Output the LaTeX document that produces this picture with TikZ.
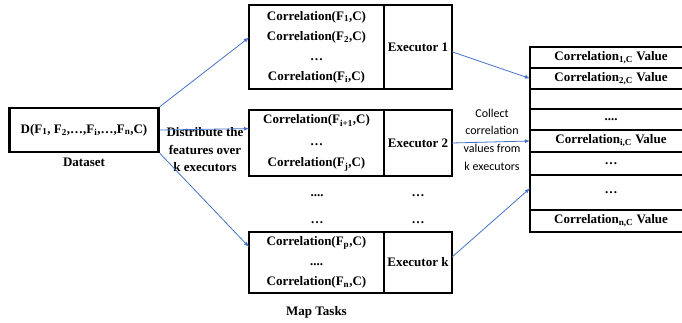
\documentclass[tikz,border=0pt]{standalone}
\usepackage{fontspec}
\setmainfont{Liberation Serif}
\newfontfamily\labelfont{Carlito}
\usepackage{tikz}
\usetikzlibrary{arrows, positioning}

\definecolor{linkblue}{RGB}{68,114,196}

\begin{document}
\begin{tikzpicture}[x=1pt, y=-1pt,
        every node/.style={font=\fontsize{13}{20}\selectfont\bfseries},
        taskbox/.style={draw, line width=2.6pt, outer sep=0pt, inner sep=2pt, align=center, minimum width=135pt},
        execbox/.style={draw, line width=1.2pt, outer sep=0pt, inner sep=1pt, minimum width=68pt},
        rowbox/.style={draw, line width=2pt, outer sep=0pt, inner sep=1pt, minimum width=162pt},
        link/.style={-latex, linkblue, line width=0.8pt}]
            \useasboundingbox (0,0) rectangle (682,323);
            % \tikzstyle{every node}=[font=\bfseries]
            \node[draw, line width=2.6pt, minimum width=149pt, minimum height=44pt] (d) at (84,130) {D(F\textsubscript{1}, F\textsubscript{2},\ldots,F\textsubscript{i},\ldots,F\textsubscript{n},C)};
            \node (dlab) [below = 1pt of d] {Dataset};
            \node[align=center, font=\fontsize{13}{17.5}\selectfont\bfseries] (dist) at (205,150) {Distribute the\\features over\\k executors};

            \node[taskbox, minimum height=84pt] (t1) at (316.5,47) {Correlation(F\textsubscript{1},C)\\Correlation(F\textsubscript{2},C)\\\ldots\\Correlation(F\textsubscript{i},C)};
            \node[taskbox, minimum height=66pt, font=\fontsize{13}{21.5}\selectfont\bfseries] (t2) at (316.5,143) {Correlation(F\textsubscript{i+1},C)\\\ldots\\Correlation(F\textsubscript{j},C)};
            \node[taskbox, minimum height=61pt] (tk) at (316.5,262.5) {Correlation(F\textsubscript{p},C)\\....\\Correlation(F\textsubscript{n},C)};
            \node[execbox, minimum height=84pt] (e1) [right = 0pt of t1] {Executor 1};
            \node[execbox, minimum height=66pt] (e2) [right = 0pt of t2] {Executor 2};
            \node[execbox, minimum height=61pt] (ek) [right = 0pt of tk] {Executor k};
            \node (dots1) at (317,196) {....};
            \node (dots2) at (418,196) {\ldots};
            \node (dots3) at (317,223) {\ldots};
            \node (dots4) at (418,223) {\ldots};
            \node (maplab) [below = 10pt of tk] {Map Tasks};

            \node[align=center, font=\labelfont\fontsize{12}{17.7}\selectfont] (coll) at (492,139.5) {Collect\\correlation\\values from\\k executors};

            \node[rowbox, minimum height=21pt] (r1) at (611,57.5) {Correlation\textsubscript{1,C} Value};
            \node[rowbox, minimum height=21pt] (r2) [below = 0pt of r1] {Correlation\textsubscript{2,C} Value};
            \node[rowbox, minimum height=20pt] (r3) [below = 0pt of r2] {};
            \node[rowbox, minimum height=21pt] (r4) [below = 0pt of r3] {....};
            \node[rowbox, minimum height=22pt] (r5) [below = 0pt of r4] {Correlation\textsubscript{i,C} Value};
            \node[rowbox, minimum height=23pt] (r6) [below = 0pt of r5] {\ldots};
            \node[rowbox, minimum height=35pt] (r7) [below = 0pt of r6] {\ldots};
            \node[rowbox, minimum height=22pt] (r8) [below = 0pt of r7] {Correlation\textsubscript{n,C} Value};

            \path[link]  (d.north east) edge (t1.172);
            \path[link]  (d.east) edge (t2.168);
            \path[link]  (d.south east) edge (tk.167);
            \path[link]  (e1.-8) edge (r2.west);
            \path[link]  (e2.east) edge (r5.west);
            \path[link]  (ek.9) edge (r7.177);
        \end{tikzpicture}
\end{document}
